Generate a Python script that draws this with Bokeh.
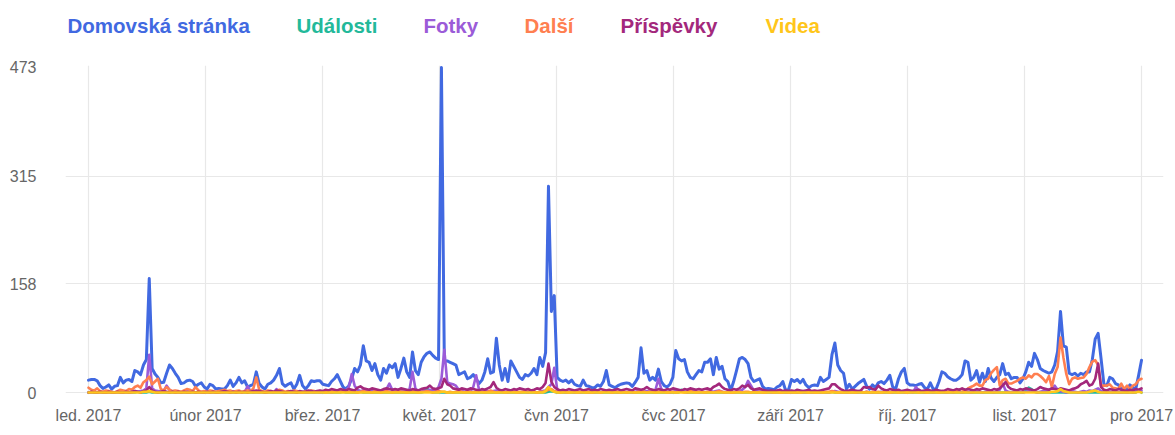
import pandas as pd
from bokeh.plotting import figure
from bokeh.layouts import column
from bokeh.models import Range1d, FixedTicker, ColumnDataSource
from bokeh.core.properties import value
from bokeh.embed import file_html
from bokeh.resources import INLINE

# ---------------- data ----------------
dates = pd.date_range("2017-01-01", "2017-12-31", freq="D")

series_names = ["Domovská stránka", "Události", "Fotky", "Další", "Příspěvky", "Videa"]
series_colors = ["#4169e1", "#23b99a", "#9b5bd8", "#ff7f50", "#a3287c", "#ffc61a"]

domovska = [
    18, 19, 19, 17, 10, 6, 8, 11, 5, 9, 10, 22, 14, 18, 19, 16, 32, 30, 26, 40, 48, 166, 35, 27, 22, 14, 15, 28, 40, 35, 28,
    22, 13, 14, 17, 18, 16, 9, 12, 14, 8, 5, 12, 10, 5, 6, 5, 5, 10, 18, 9, 14, 22, 14, 17, 8, 10, 12, 30,
    13, 8, 5, 12, 14, 18, 25, 35, 13, 9, 12, 14, 5, 12, 25, 10, 5, 10, 17, 16, 17, 17, 12, 11, 10, 16, 20, 26, 17, 8, 5,
    10, 20, 35, 30, 40, 68, 46, 44, 32, 42, 26, 18, 35, 28, 40, 36, 42, 22, 35, 50, 30, 22, 59, 32, 26, 44, 52, 57, 59, 54,
    50, 48, 473, 46, 46, 44, 42, 40, 26, 28, 30, 20, 22, 26, 20, 13, 18, 30, 49, 28, 30, 79, 40, 18, 35, 16, 46, 38, 30, 22, 19,
    26, 24, 28, 35, 26, 51, 38, 58, 300, 118, 141, 22, 18, 16, 18, 14, 18, 12, 10, 9, 18, 10, 9, 7, 7, 11, 9, 16, 32, 11,
    9, 7, 10, 12, 13, 14, 13, 9, 15, 22, 65, 28, 32, 18, 22, 18, 34, 16, 10, 8, 12, 22, 61, 49, 46, 48, 30, 22, 20, 26, 32,
    30, 44, 44, 49, 26, 51, 34, 38, 20, 16, 3, 16, 32, 49, 51, 48, 42, 22, 16, 18, 20, 9, 5, 6, 5, 4, 8, 10, 16, 3, 4,
    19, 16, 19, 14, 19, 11, 7, 10, 11, 10, 22, 16, 19, 22, 55, 72, 40, 32, 28, 5, 12, 5, 9, 13, 16, 19, 9, 5, 11, 7,
    14, 16, 13, 18, 25, 8, 5, 20, 30, 35, 14, 11, 11, 10, 12, 13, 7, 5, 14, 5, 5, 16, 30, 28, 23, 20, 18, 18, 21, 26, 46,
    44, 18, 22, 32, 15, 28, 16, 35, 21, 16, 22, 26, 42, 26, 28, 20, 22, 22, 14, 20, 30, 44, 38, 57, 48, 35, 32, 30, 28, 30,
    40, 60, 118, 68, 66, 28, 26, 28, 24, 28, 26, 30, 30, 48, 78, 86, 50, 12, 10, 22, 20, 13, 11, 5, 5, 5, 11, 7, 5, 25, 47,
]

udalosti = [
    0, 0, 0, 0, 0, 0, 0, 0, 0, 0, 0, 0, 0, 0, 0, 0, 0, 1, 0, 0, 0, 1, 0, 0, 0, 0, 0, 0, 0, 0, 0,
    0, 0, 0, 0, 0, 0, 0, 0, 0, 0, 0, 0, 0, 0, 0, 0, 0, 0, 0, 0, 0, 0, 1, 0, 0, 0, 0, 0,
    0, 0, 0, 0, 0, 0, 0, 0, 0, 0, 0, 0, 0, 0, 0, 0, 0, 0, 0, 0, 0, 0, 0, 0, 0, 0, 0, 0, 0, 1, 0,
    0, 0, 0, 0, 1, 0, 0, 0, 0, 0, 0, 0, 0, 0, 0, 0, 0, 0, 0, 0, 0, 0, 0, 0, 0, 0, 1, 6, 2, 0,
    0, 0, 0, 0, 0, 0, 0, 0, 0, 0, 0, 0, 0, 0, 0, 0, 0, 0, 0, 0, 0, 0, 0, 0, 0, 0, 0, 0, 0, 0, 0,
    0, 0, 0, 0, 0, 0, 0, 0, 1, 2, 1, 0, 0, 0, 0, 0, 0, 0, 0, 0, 0, 0, 0, 0, 0, 0, 0, 0, 0, 0,
    0, 0, 0, 0, 0, 0, 0, 0, 0, 0, 0, 0, 0, 0, 0, 0, 0, 0, 0, 0, 0, 0, 0, 0, 4, 1, 0, 0, 0, 0, 0,
    0, 0, 0, 0, 0, 0, 0, 0, 0, 0, 0, 0, 0, 0, 0, 0, 0, 0, 0, 0, 0, 0, 0, 0, 0, 0, 0, 0, 0, 0, 0,
    0, 0, 0, 0, 0, 0, 0, 0, 0, 0, 0, 0, 0, 0, 1, 0, 0, 0, 0, 0, 0, 0, 0, 0, 0, 0, 0, 0, 0, 0,
    0, 0, 0, 0, 0, 0, 0, 0, 0, 0, 0, 0, 0, 0, 0, 0, 0, 0, 0, 0, 0, 0, 0, 0, 0, 0, 0, 0, 0, 0, 0,
    0, 0, 0, 0, 0, 0, 0, 0, 0, 0, 0, 0, 0, 0, 0, 0, 0, 0, 0, 0, 2, 7, 5, 1, 0, 0, 0, 0, 0, 0,
    0, 0, 0, 0, 0, 0, 0, 0, 0, 0, 0, 0, 0, 0, 0, 0, 0, 0, 0, 0, 0, 0, 0, 0, 0, 0, 0, 0, 0, 3, 0,
]

fotky = [
    0, 0, 1, 0, 0, 1, 0, 0, 1, 0, 0, 1, 0, 0, 1, 0, 2, 1, 2, 3, 6, 55, 6, 3, 2, 1, 2, 10, 4, 1, 0,
    0, 1, 0, 2, 3, 1, 0, 0, 1, 0, 0, 1, 0, 0, 1, 0, 0, 1, 0, 1, 0, 1, 0, 1, 9, 2, 0, 1,
    0, 1, 0, 0, 1, 0, 5, 1, 0, 0, 1, 0, 0, 1, 0, 1, 0, 0, 1, 0, 1, 0, 1, 2, 1, 0, 1, 1, 2, 2, 3,
    8, 27, 10, 4, 2, 3, 2, 1, 2, 1, 2, 1, 3, 5, 13, 4, 2, 1, 2, 3, 2, 5, 30, 6, 2, 1, 3, 2, 4, 3,
    2, 8, 20, 62, 15, 13, 12, 10, 4, 2, 1, 2, 2, 8, 25, 4, 2, 1, 2, 1, 2, 3, 1, 2, 1, 0, 1, 2, 1, 0, 1,
    1, 0, 2, 1, 0, 1, 2, 3, 8, 12, 36, 5, 2, 1, 0, 1, 1, 0, 1, 0, 1, 1, 0, 1, 0, 1, 0, 1, 2, 1,
    0, 1, 0, 1, 1, 0, 1, 0, 1, 2, 3, 1, 2, 1, 2, 4, 20, 5, 2, 1, 0, 1, 2, 3, 2, 1, 0, 1, 2, 1, 0,
    1, 0, 1, 2, 1, 2, 3, 1, 0, 1, 0, 0, 1, 2, 4, 8, 17, 10, 3, 4, 2, 1, 0, 1, 0, 0, 1, 0, 1, 0, 0,
    0, 1, 0, 1, 0, 0, 1, 0, 0, 1, 0, 1, 0, 0, 1, 2, 1, 0, 1, 0, 0, 1, 0, 0, 1, 0, 1, 0, 0, 1,
    0, 1, 0, 1, 0, 0, 1, 0, 1, 0, 0, 1, 0, 8, 3, 1, 0, 0, 1, 0, 1, 0, 1, 0, 0, 1, 0, 1, 1, 0, 1,
    1, 0, 1, 2, 1, 0, 1, 2, 1, 0, 2, 4, 13, 3, 1, 0, 1, 2, 1, 0, 1, 2, 1, 1, 0, 1, 2, 3, 4, 6,
    10, 4, 2, 1, 0, 1, 2, 1, 0, 1, 2, 1, 3, 2, 4, 6, 2, 1, 0, 1, 0, 1, 0, 0, 1, 0, 1, 0, 1, 2, 3,
]

dalsi = [
    7, 4, 3, 6, 2, 1, 3, 2, 1, 0, 2, 4, 3, 2, 5, 4, 8, 10, 7, 15, 18, 23, 12, 16, 20, 5, 3, 8, 4, 2, 3,
    2, 1, 3, 5, 4, 2, 8, 3, 1, 2, 1, 3, 2, 1, 2, 3, 4, 2, 3, 1, 2, 3, 1, 2, 3, 2, 6, 22,
    4, 2, 1, 3, 2, 1, 2, 4, 3, 1, 2, 1, 3, 2, 1, 0, 2, 1, 3, 2, 1, 2, 1, 0, 1, 2, 1, 3, 1, 2, 1,
    1, 2, 1, 0, 1, 2, 1, 1, 0, 2, 1, 0, 1, 2, 1, 0, 1, 2, 1, 1, 0, 1, 2, 1, 0, 1, 1, 2, 1, 0,
    1, 2, 1, 1, 0, 1, 0, 1, 2, 1, 0, 1, 1, 0, 1, 2, 1, 0, 1, 3, 1, 0, 1, 1, 0, 1, 2, 1, 0, 1, 1,
    3, 5, 2, 1, 0, 1, 1, 2, 4, 5, 2, 1, 0, 1, 1, 0, 1, 1, 0, 1, 1, 0, 1, 0, 1, 1, 0, 1, 2, 1,
    0, 1, 1, 0, 1, 0, 1, 1, 0, 1, 2, 1, 0, 1, 1, 0, 1, 2, 1, 0, 1, 1, 0, 1, 1, 0, 1, 2, 1, 0, 1,
    1, 0, 1, 1, 0, 1, 2, 1, 0, 1, 0, 0, 1, 1, 0, 1, 1, 0, 1, 0, 1, 0, 0, 1, 1, 0, 1, 0, 0, 1, 0,
    1, 0, 1, 0, 1, 1, 0, 1, 0, 0, 1, 0, 1, 1, 2, 1, 0, 1, 0, 1, 0, 1, 0, 1, 1, 0, 1, 0, 1, 0,
    1, 0, 1, 1, 0, 2, 1, 0, 1, 1, 0, 1, 2, 1, 0, 1, 1, 0, 2, 1, 1, 0, 2, 1, 1, 2, 1, 3, 4, 5, 2,
    6, 8, 10, 13, 10, 10, 18, 20, 28, 33, 37, 10, 18, 20, 13, 13, 15, 17, 20, 22, 20, 25, 22, 27, 27, 24, 20, 15, 24, 8,
    27, 37, 80, 51, 27, 12, 20, 22, 20, 21, 22, 27, 37, 45, 47, 40, 10, 10, 10, 12, 7, 6, 5, 13, 5, 10, 5, 10, 12, 18, 20,
]

prispevky = [
    0, 1, 0, 0, 1, 0, 0, 1, 0, 0, 1, 0, 0, 1, 0, 1, 2, 1, 0, 2, 3, 8, 3, 1, 0, 1, 2, 1, 0, 1, 0,
    1, 0, 1, 0, 0, 1, 0, 1, 0, 0, 1, 0, 1, 0, 0, 1, 2, 1, 0, 1, 0, 1, 0, 1, 0, 1, 2, 3,
    2, 1, 0, 1, 2, 1, 3, 2, 1, 0, 1, 2, 1, 0, 2, 1, 1, 3, 2, 1, 2, 3, 2, 4, 3, 5, 4, 3, 5, 4, 3,
    5, 4, 3, 7, 9, 6, 5, 4, 6, 5, 4, 3, 5, 6, 5, 4, 5, 4, 6, 5, 4, 3, 5, 4, 3, 5, 6, 7, 10, 6,
    5, 6, 8, 20, 12, 10, 6, 5, 4, 6, 5, 4, 6, 5, 4, 3, 5, 4, 6, 8, 15, 7, 4, 3, 5, 4, 3, 5, 4, 6, 5,
    4, 5, 3, 4, 6, 5, 8, 14, 42, 16, 8, 5, 3, 4, 3, 5, 4, 3, 4, 5, 3, 4, 5, 3, 4, 3, 5, 4, 3, 4,
    3, 4, 5, 3, 4, 5, 4, 3, 6, 5, 4, 5, 8, 5, 4, 3, 5, 4, 3, 5, 4, 6, 5, 4, 3, 5, 4, 6, 5, 4, 5,
    4, 5, 6, 4, 8, 10, 13, 8, 5, 4, 3, 5, 4, 6, 10, 8, 11, 6, 4, 5, 6, 4, 3, 2, 3, 2, 3, 4, 2, 3, 2,
    3, 2, 4, 3, 2, 3, 4, 2, 3, 2, 3, 4, 5, 6, 12, 12, 8, 5, 3, 2, 3, 4, 3, 2, 3, 8, 7, 8, 5, 4,
    10, 6, 4, 3, 5, 4, 3, 4, 2, 3, 4, 3, 2, 3, 4, 2, 3, 4, 3, 2, 4, 3, 2, 3, 5, 4, 3, 5, 4, 6, 4,
    5, 4, 3, 5, 4, 6, 5, 4, 3, 5, 4, 6, 10, 15, 8, 5, 4, 3, 5, 4, 6, 5, 4, 3, 5, 8, 6, 5, 4, 6,
    5, 4, 6, 5, 4, 3, 5, 6, 8, 12, 14, 17, 10, 12, 20, 42, 8, 4, 3, 5, 4, 3, 5, 4, 3, 2, 4, 3, 5, 4, 6,
]

videa = [
    0, 0, 0, 0, 0, 0, 0, 0, 0, 0, 0, 0, 0, 0, 0, 0, 0, 0, 0, 1, 1, 2, 1, 0, 0, 0, 0, 0, 0, 0, 0,
    0, 0, 0, 0, 0, 0, 0, 0, 0, 0, 0, 0, 0, 0, 0, 0, 0, 0, 0, 0, 0, 0, 0, 0, 0, 0, 0, 0,
    0, 0, 0, 0, 0, 0, 0, 0, 0, 0, 0, 0, 0, 0, 0, 0, 0, 0, 0, 0, 0, 0, 0, 0, 0, 0, 0, 0, 0, 0, 0,
    0, 0, 0, 0, 0, 0, 0, 0, 0, 0, 0, 0, 0, 0, 0, 0, 0, 0, 0, 0, 0, 0, 0, 0, 0, 0, 0, 0, 0, 0,
    0, 0, 1, 1, 0, 0, 0, 0, 0, 0, 0, 0, 0, 0, 0, 0, 0, 0, 0, 0, 0, 0, 0, 0, 0, 0, 0, 0, 0, 0, 0,
    0, 0, 0, 0, 0, 0, 0, 2, 8, 3, 1, 0, 0, 0, 0, 0, 0, 0, 0, 0, 0, 0, 0, 0, 0, 0, 0, 0, 0, 0,
    0, 0, 0, 0, 0, 0, 0, 0, 0, 0, 0, 0, 0, 0, 0, 0, 0, 0, 0, 0, 0, 0, 0, 0, 0, 0, 0, 0, 0, 0, 0,
    0, 0, 0, 0, 0, 0, 0, 0, 0, 0, 0, 0, 0, 0, 0, 0, 0, 0, 0, 0, 0, 0, 0, 0, 0, 0, 0, 0, 0, 0, 0,
    0, 0, 0, 0, 0, 0, 0, 0, 0, 0, 0, 0, 0, 0, 0, 0, 0, 0, 0, 0, 0, 0, 0, 0, 0, 0, 0, 0, 0, 0,
    0, 0, 0, 0, 0, 0, 0, 0, 0, 0, 0, 0, 0, 0, 0, 0, 0, 0, 0, 0, 0, 0, 0, 0, 0, 0, 0, 0, 0, 0, 0,
    0, 0, 0, 0, 0, 0, 0, 0, 0, 0, 0, 0, 0, 0, 0, 0, 0, 0, 0, 0, 0, 0, 0, 0, 0, 0, 0, 0, 0, 1,
    1, 2, 5, 2, 1, 0, 0, 0, 0, 0, 0, 0, 1, 2, 3, 1, 0, 0, 0, 0, 0, 0, 0, 0, 0, 0, 0, 0, 0, 1, 0,
]

series_values = [domovska, udalosti, fotky, dalsi, prispevky, videa]

x_tick_labels = ["led. 2017", "únor 2017", "břez. 2017", "květ. 2017", "čvn 2017",
                 "čvc 2017", "září 2017", "říj. 2017", "list. 2017", "pro 2017"]
y_ticks = [0, 158, 315, 473]

# ---------------- layout constants ----------------
W = 1175
LEG_H = 50                 # height of the legend strip
H = 435 - LEG_H            # height of the chart figure
B_LEFT, B_RIGHT, B_TOP, B_BOTTOM = 65, 12, 15, 41

DAY = 86400000.0
t0 = dates[0].value / 1e6
t1 = dates[-1].value / 1e6
x_start, x_end = t0 - 7.95 * DAY, t1 + 7.6 * DAY
y_start, y_end = -2.9, 475.9

n_int = len(x_tick_labels) - 1
x_ticks = [t0 + k * (t1 - t0) / n_int for k in range(len(x_tick_labels))]

# ---------------- legend strip (frame aligned with the chart) ----------------
leg = figure(width=W, height=LEG_H, output_backend="svg", toolbar_location=None,
             x_range=Range1d(B_LEFT, W - B_RIGHT), y_range=Range1d(0, LEG_H),
             min_border_left=B_LEFT, min_border_right=B_RIGHT,
             min_border_top=0, min_border_bottom=0)
leg.axis.visible = False
leg.grid.visible = False
leg.outline_line_color = None
leg.background_fill_color = "white"
leg.border_fill_color = "white"
legend_px = [67, 296, 423, 524, 620, 765]
leg_src = ColumnDataSource(dict(x=legend_px, y=[LEG_H - 25] * len(series_names),
                                name=series_names, color=series_colors))
leg.text(x="x", y="y", text="name", text_color="color", source=leg_src,
         text_font=value("Liberation Sans"), text_font_style="bold",
         text_font_size=value("20.5px"), text_baseline="middle", text_align="left")

# ---------------- chart ----------------
p = figure(width=W, height=H, output_backend="svg", toolbar_location=None,
           x_axis_type="datetime",
           x_range=Range1d(x_start, x_end), y_range=Range1d(y_start, y_end),
           min_border_left=B_LEFT, min_border_right=B_RIGHT,
           min_border_top=B_TOP, min_border_bottom=B_BOTTOM)
p.outline_line_color = None
p.background_fill_color = "white"
p.border_fill_color = "white"

for name, vals, col in zip(series_names, series_values, series_colors):
    src = ColumnDataSource(dict(x=list(dates[:len(vals)]), y=vals))
    p.line("x", "y", source=src, line_color=col,
           line_width=3 if name == series_names[0] else 2.6,
           line_join="round", line_cap="round")

xa = p.xaxis[0]
xa.ticker = FixedTicker(ticks=x_ticks)
xa.major_label_overrides = {t: lab for t, lab in zip(x_ticks, x_tick_labels)}
ya = p.yaxis[0]
ya.ticker = FixedTicker(ticks=y_ticks)
for ax in (xa, ya):
    ax.axis_line_color = None
    ax.major_tick_line_color = None
    ax.minor_tick_line_color = None
    ax.major_label_text_font = "Liberation Sans"
    ax.major_label_text_font_size = "16px"
    ax.major_label_text_color = "#666666"
xa.major_label_standoff = 6
ya.major_label_standoff = 23

p.xgrid.ticker = FixedTicker(ticks=x_ticks)
p.ygrid.ticker = FixedTicker(ticks=y_ticks[:-1])
p.xgrid.grid_line_color = "#e8e8e8"
p.ygrid.grid_line_color = "#e8e8e8"
p.xgrid.grid_line_width = 1.2
p.ygrid.grid_line_width = 1.2

layout = column(leg, p, spacing=0)
open("out.html", "w").write(file_html(layout, INLINE))
